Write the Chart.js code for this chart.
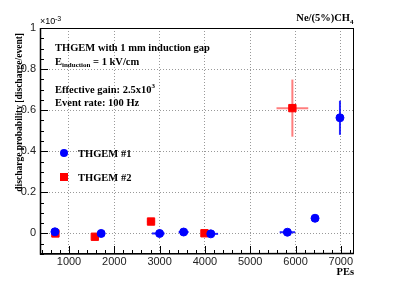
<!DOCTYPE html>
<html>
<head>
<meta charset="utf-8">
<script src="https://cdn.jsdelivr.net/npm/chart.js@4/dist/chart.umd.min.js"></script>
<style>
  body { margin: 0; background: #fff; }
  #c { display: block; }
</style>
</head>
<body>
<canvas id="c" width="394" height="283"></canvas>
<script>
// THGEM #1 (blue circles)
var thgem1X = [690, 1710, 3000, 3530, 4130, 5820, 6430, 6980];
var thgem1Y = [0.008, 0.000, 0.000, 0.007, -0.002, 0.006, 0.074, 0.563];
var thgem1XErrLo = [0, 0, 170, 110, 60, 170, 0, 0];
var thgem1XErrHi = [0, 0, 110, 110, 160, 170, 0, 0];
var thgem1YErr = [0.004, 0.003, 0.003, 0.005, 0.003, 0.005, 0.005, 0.083];

// THGEM #2 (red squares)
var thgem2X = [700, 1570, 2810, 3990, 5930];
var thgem2Y = [0.000, -0.016, 0.058, 0.001, 0.610];
var thgem2XErr = [0, 0, 90, 0, 350];
var thgem2YErr = [0, 0, 0.010, 0, 0.139];

// axes
var xTicks = [1000, 2000, 3000, 4000, 5000, 6000, 7000];
var yTicks = [0, 0.2, 0.4, 0.6, 0.8, 1];
var xMin = 360, xMax = 7290;
var yMin = -0.1, yMax = 1.0;

function pts(xs, ys) {
  var out = [];
  for (var i = 0; i < xs.length; i++) out.push({x: xs[i], y: ys[i]});
  return out;
}

var serifB = 'bold 10.5px "Liberation Serif", "DejaVu Serif", serif';

function drawErrorBars(chart) {
  var ctx = chart.ctx;
  var xs = chart.scales.x, ys = chart.scales.y;
  ctx.save();
  function bars(xv, yv, xlo, xhi, ye, color) {
    ctx.strokeStyle = color;
    ctx.lineWidth = 2;
    for (var i = 0; i < xv.length; i++) {
      var cx = xs.getPixelForValue(xv[i]), cy = ys.getPixelForValue(yv[i]);
      if (xlo[i] || xhi[i]) {
        ctx.beginPath();
        ctx.moveTo(xs.getPixelForValue(xv[i] - xlo[i]), cy);
        ctx.lineTo(xs.getPixelForValue(xv[i] + xhi[i]), cy);
        ctx.stroke();
      }
      if (ye[i]) {
        ctx.beginPath();
        ctx.moveTo(cx, ys.getPixelForValue(yv[i] - ye[i]));
        ctx.lineTo(cx, ys.getPixelForValue(yv[i] + ye[i]));
        ctx.stroke();
      }
    }
  }
  bars(thgem1X, thgem1Y, thgem1XErrLo, thgem1XErrHi, thgem1YErr, 'rgba(0,0,255,0.85)');
  bars(thgem2X, thgem2Y, thgem2XErr, thgem2XErr, thgem2YErr, 'rgba(255,40,40,0.6)');
  ctx.restore();
}

var rootPlugin = {
  id: 'rootStyle',
  beforeDatasetsDraw: function(chart) {
    drawErrorBars(chart);
  },
  afterDraw: function(chart) {
    var ctx = chart.ctx, a = chart.chartArea;
    var xs = chart.scales.x, ys = chart.scales.y;
    ctx.save();
    ctx.setLineDash([]);
    // frame
    ctx.strokeStyle = '#000';
    ctx.lineWidth = 1;
    ctx.strokeRect(a.left + 0.5, a.top + 0.5, a.right - a.left - 1, a.bottom - a.top - 1);
    ctx.lineWidth = 1.5;
    ctx.beginPath();
    ctx.moveTo(a.left + 0.5, a.top); ctx.lineTo(a.left + 0.5, a.bottom);
    ctx.lineTo(a.right, a.bottom - 0.5);
    ctx.stroke();
    // inward ticks: majors long, minors short
    ctx.lineWidth = 1;
    for (var v = 400; v <= 7200; v += 200) {
      var px = Math.round(xs.getPixelForValue(v)) + 0.5;
      var len = (v % 1000 === 0) ? 8 : 4;
      ctx.beginPath(); ctx.moveTo(px, a.bottom); ctx.lineTo(px, a.bottom - len); ctx.stroke();
    }
    for (var k = -2; k <= 20; k++) {
      var py = Math.round(ys.getPixelForValue(k * 0.05)) + 0.5;
      var l2 = (k % 4 === 0) ? 8 : 4;
      ctx.beginPath(); ctx.moveTo(a.left, py); ctx.lineTo(a.left + l2, py); ctx.stroke();
    }

    ctx.fillStyle = '#000';
    // axis titles
    ctx.font = 'bold 9.5px "Liberation Serif", serif';
    ctx.save();
    ctx.translate(20, a.top + 5);
    ctx.rotate(-Math.PI / 2);
    ctx.textAlign = 'right';
    ctx.textBaseline = 'middle';
    ctx.fillText('discharge probability [discharge/event]', 0, 0);
    ctx.restore();
    ctx.textAlign = 'right';
    ctx.textBaseline = 'middle';
    ctx.font = serifB;
    ctx.fillText('PEs', a.right, 272);

    // exponent label
    ctx.textAlign = 'left';
    ctx.font = '9px "Liberation Sans", sans-serif';
    ctx.fillText('\u00d710', 40, 22);
    ctx.font = '7px "Liberation Sans", sans-serif';
    ctx.fillText('-3', 55, 19);

    // gas label
    ctx.font = serifB;
    ctx.textAlign = 'right';
    ctx.fillText('Ne/(5%)CH', a.right - 4, 18);
    ctx.font = 'bold 7px "Liberation Serif", serif';
    ctx.textAlign = 'left';
    ctx.fillText('4', a.right - 4, 22);

    // annotation text
    ctx.font = serifB;
    ctx.fillText('THGEM with 1 mm induction gap', 55, 48);
    ctx.fillText('E', 55, 62);
    var ew = ctx.measureText('E').width;
    ctx.font = 'bold 7px "Liberation Serif", serif';
    ctx.fillText('induction', 55 + ew, 65);
    var iw = ctx.measureText('induction').width;
    ctx.font = serifB;
    ctx.fillText(' = 1 kV/cm', 55 + ew + iw, 62);
    ctx.fillText('Effective gain: 2.5x10', 55, 90);
    var gw = ctx.measureText('Effective gain: 2.5x10').width;
    ctx.font = 'bold 7px "Liberation Serif", serif';
    ctx.fillText('3', 55 + gw, 86);
    ctx.font = serifB;
    ctx.fillText('Event rate: 100 Hz', 55, 103);

    // legend
    ctx.fillStyle = '#0000ff';
    ctx.beginPath(); ctx.arc(64, 153, 4, 0, Math.PI * 2); ctx.fill();
    ctx.fillStyle = '#ff0000';
    ctx.fillRect(60, 173, 8, 8);
    ctx.fillStyle = '#000';
    ctx.font = serifB;
    ctx.fillText('THGEM #1', 78, 154);
    ctx.fillText('THGEM #2', 78, 178);
    ctx.restore();
  }
};

new Chart(document.getElementById('c'), {
  type: 'scatter',
  data: {
    datasets: [{
      label: 'THGEM #1',
      data: pts(thgem1X, thgem1Y),
      pointStyle: 'circle',
      pointRadius: 4,
      pointBackgroundColor: '#0000ff',
      pointBorderColor: '#0000ff',
      pointBorderWidth: 1
    }, {
      label: 'THGEM #2',
      data: pts(thgem2X, thgem2Y),
      pointStyle: 'rect',
      pointRadius: 5.2,
      pointBackgroundColor: '#ff0000',
      pointBorderColor: '#ff0000',
      pointBorderWidth: 1
    }]
  },
  options: {
    responsive: false,
    animation: false,
    events: [],
    layout: { padding: { left: 0, top: 28, right: 40, bottom: 0 } },
    plugins: { legend: { display: false }, tooltip: { enabled: false } },
    scales: {
      x: {
        type: 'linear',
        min: xMin, max: xMax,
        grid: { display: true, drawTicks: false, drawOnChartArea: true, color: '#999999', lineWidth: 1 },
        border: { display: false, dash: [1, 2] },
        afterFit: function(s) { s.height = 29; },
        afterBuildTicks: function(s) { s.ticks = xTicks.map(function(v) { return {value: v}; }); },
        ticks: {
          autoSkip: false,
          maxRotation: 0,
          padding: 1,
          color: '#222',
          font: { family: '"Liberation Sans", sans-serif', size: 11 },
          callback: function(v) { return String(v); }
        }
      },
      y: {
        type: 'linear',
        min: yMin, max: yMax,
        grid: { display: true, drawTicks: false, drawOnChartArea: true, color: '#999999', lineWidth: 1 },
        border: { display: false, dash: [1, 2] },
        afterFit: function(s) { s.width = 40; },
        afterBuildTicks: function(s) { s.ticks = yTicks.map(function(v) { return {value: v}; }); },
        ticks: {
          padding: 4,
          color: '#222',
          font: { family: '"Liberation Sans", sans-serif', size: 11 },
          callback: function(v) { return String(v); }
        }
      }
    }
  },
  plugins: [rootPlugin]
});
</script>
</body>
</html>
